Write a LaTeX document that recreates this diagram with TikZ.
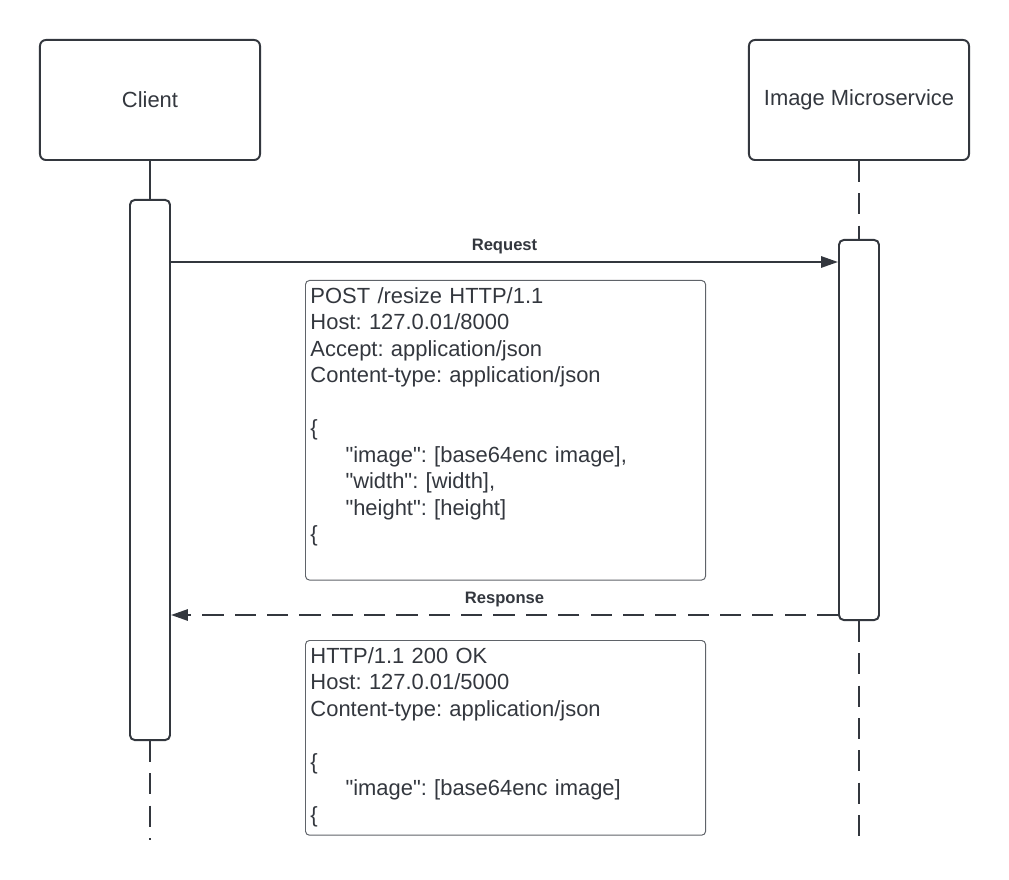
\documentclass[tikz,border=0pt]{standalone}
\usepackage{fontspec}
\setmainfont{Liberation Sans}[Ligatures=TeXOff]
\usetikzlibrary{arrows.meta,positioning}
\definecolor{ink}{RGB}{51,55,62}
\definecolor{notegray}{RGB}{95,99,105}

\begin{document}
\frenchspacing
\begin{tikzpicture}[x=0.025cm,y=-0.025cm]
  \tikzstyle{actor}=[draw=ink,line width=1.4pt,rounded corners=0.15cm,minimum width=5.5cm,minimum height=3cm,inner sep=0pt,text=ink,font=\fontsize{15.6}{18.8}\selectfont]
  \tikzstyle{bar}=[draw=ink,fill=white,line width=1.4pt,rounded corners=0.12cm,minimum width=1cm,inner sep=0pt]
  \tikzstyle{note}=[draw=notegray,line width=0.7pt,rounded corners=0.1cm,anchor=north west,align=left,text width=9.75cm,inner xsep=0.125cm,inner ysep=0.175cm,text=ink,font=\fontsize{15.6}{18.85}\selectfont]
  \tikzstyle{lifeline}=[draw=ink,line width=1.4pt,dash pattern=on 15pt off 8pt]
  \tikzstyle{msg}=[draw=ink,line width=1.4pt,-{Triangle[length=12pt,width=8pt]}]
  \tikzstyle{msglabel}=[text=ink,inner sep=0pt,font=\bfseries\fontsize{11.8}{14}\selectfont]

  \useasboundingbox (0,0) rectangle (1009,880);

  % participants
  \node[actor] (client) at (150,100) {Client};
  \node[actor] (service) at (859,100) {Image Microservice};

  % activation bars
  \node[bar,minimum height=13.5cm] (clientbar) at (150,470) {};
  \node[bar,minimum height=9.5cm] (servicebar) at (859,430) {};

  \coordinate (clientend) at (150,840);
  \coordinate (serviceend) at (859,840);
  \coordinate (reqlevel) at (504,262);
  \coordinate (reslevel) at (504,615);

  \draw[line width=1.4pt,ink] (client) -- (clientbar);
  \draw[lifeline] (service) -- (servicebar);
  \draw[lifeline] (clientbar) -- (clientend);
  \draw[lifeline] (servicebar) -- (serviceend);

  % messages
  \draw[msg] (clientbar.east |- reqlevel) -- node[msglabel,above=5pt] {Request} (servicebar.west |- reqlevel);
  \draw[msg,dash pattern=on 15pt off 8pt] (servicebar.west |- reslevel) -- node[msglabel,above=5pt] {Response} (clientbar.east |- reslevel);

  % payloads
  \node[note,text depth=6.74cm] (reqnote) at (305,280) {POST /resize HTTP/1.1\\
    Host: 127.0.01/8000\\
    Accept: application/json\\
    Content-type: application/json\\
    \mbox{}\\
    \{\\
    \hspace*{0.875cm}"image": [base64enc image],\\
    \hspace*{0.875cm}"width": [width],\\
    \hspace*{0.875cm}"height": [height]\\
    \{};
  \node[note,text depth=4.12cm] (resnote) at (305,640) {HTTP/1.1 200 OK\\
    Host: 127.0.01/5000\\
    Content-type: application/json\\
    \mbox{}\\
    \{\\
    \hspace*{0.875cm}"image": [base64enc image]\\
    \{};
\end{tikzpicture}
\end{document}
